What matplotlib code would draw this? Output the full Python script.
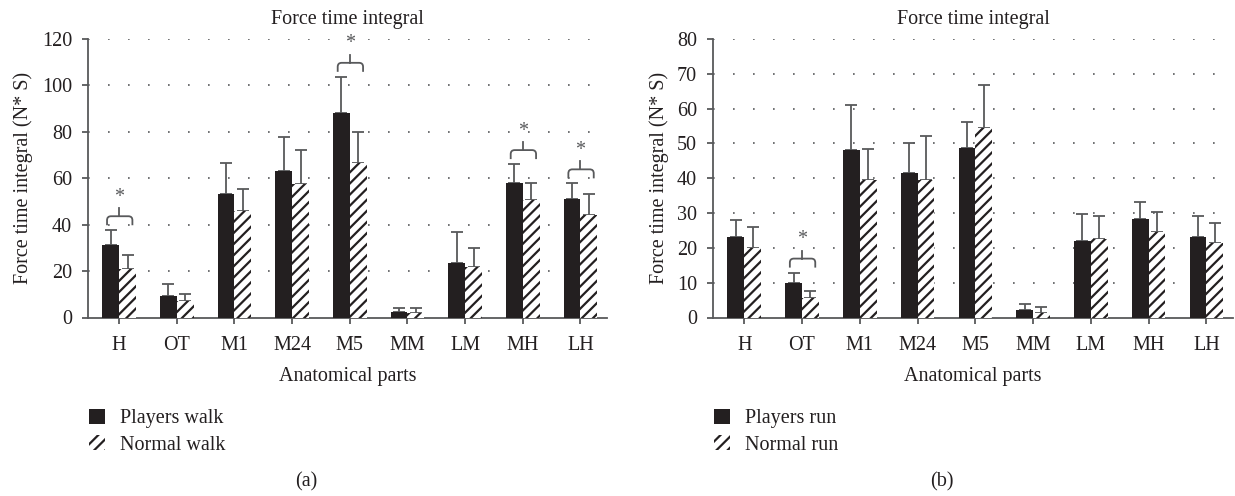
import matplotlib
matplotlib.use('agg')
import matplotlib.pyplot as plt
from matplotlib.patches import Patch, PathPatch
from matplotlib.path import Path
import numpy as np

# categories (anatomical parts)
parts = ['H', 'OT', 'M1', 'M24', 'M5', 'MM', 'LM', 'MH', 'LH']

# (a) walking
players_walk = [31.1, 9.3, 53.4, 63.3, 88.1, 2.4, 23.4, 58.1, 51.1]
players_walk_sd = [6.5, 5.1, 13.3, 14.3, 15.6, 1.5, 13.5, 8.0, 6.7]
normal_walk = [21.1, 6.9, 46.1, 57.6, 66.4, 2.1, 21.6, 50.6, 44.2]
normal_walk_sd = [5.8, 3.1, 9.2, 14.7, 13.5, 1.8, 8.3, 7.2, 9.0]
sig_walk = ['H', 'M5', 'MH', 'LH']

# (b) running
players_run = [23.1, 9.8, 48.2, 41.4, 48.6, 2.1, 22.1, 28.3, 23.1]
players_run_sd = [5.0, 3.1, 12.8, 8.7, 7.7, 1.9, 7.6, 5.0, 6.1]
normal_run = [19.9, 5.5, 39.5, 39.5, 54.4, 1.4, 22.5, 24.5, 21.5]
normal_run_sd = [6.1, 2.2, 9.0, 12.7, 12.3, 1.7, 6.7, 5.7, 5.6]
sig_run = ['OT']

DARK = '#231f20'
GREY = '#58595b'
FS = 14.5

plt.rcParams['font.family'] = ['Liberation Serif', 'DejaVu Serif']
plt.rcParams['hatch.linewidth'] = 1.6
plt.rcParams['hatch.color'] = DARK

W, H = 1235, 496
fig = plt.figure(figsize=(W / 100, H / 100), dpi=100)


def draw_panel(rect, players, players_sd, normal, normal_sd, ymax, ystep, sig, names, tag, tag_x):
    ax = fig.add_axes(rect)
    x = np.arange(len(parts))
    w = 0.29
    ax.bar(x - w / 2, players, w, color=DARK, linewidth=0, zorder=3)
    ax.bar(x + w / 2, normal, w, color='white', edgecolor=DARK, hatch='///', linewidth=0, zorder=3)
    ax.errorbar(x - w / 2, players, yerr=[np.zeros(len(x)), players_sd], fmt='none',
                ecolor=GREY, elinewidth=1.3, capsize=4, capthick=1.3, zorder=2)
    ax.errorbar(x + w / 2, normal, yerr=[np.zeros(len(x)), normal_sd], fmt='none',
                ecolor=GREY, elinewidth=1.3, capsize=4, capthick=1.3, zorder=2)

    ax.set_xlim(-0.54, 8.46)
    ax.set_ylim(0, ymax)
    ax.set_yticks(np.arange(0, ymax + 1, ystep))
    ax.set_xticks(x)
    ax.set_xticklabels(parts)
    for yv in np.arange(ystep, ymax + 1, ystep):
        ax.axhline(yv, color=GREY, linestyle=(0, (1, 11)), linewidth=1.2, zorder=1)

    for s in ['top', 'right']:
        ax.spines[s].set_visible(False)
    for s in ['left', 'bottom']:
        ax.spines[s].set_color(GREY)
        ax.spines[s].set_linewidth(1.3)
    ax.tick_params(axis='both', colors=GREY, labelcolor=DARK, labelsize=FS,
                   length=4.5, width=1.3, direction='out')
    ax.tick_params(axis='y', pad=7)
    ax.tick_params(axis='x', pad=8.5)

    ax.set_title('Force time integral', fontsize=FS, color=DARK, pad=11)
    ax.set_xlabel('Anatomical parts', fontsize=FS, color=DARK, labelpad=9)
    ax.set_ylabel('Force time integral (N* S)', fontsize=FS, color=DARK, labelpad=6)

    # significance brackets, offsets in pixels above the higher error bar
    upp = ymax / (rect[3] * H)
    upx = (8.46 + 0.54) / (rect[2] * W)
    for name in sig:
        i = parts.index(name)
        top = max(players[i] + players_sd[i], normal[i] + normal_sd[i])
        y_leg = top + 5 * upp
        y_line = top + 14 * upp
        y_tick = top + 22 * upp
        xl, xr = i - 0.21, i + 0.23
        rx, ry = 4 * upx, 4 * upp
        verts = [(xl, y_leg), (xl, y_line - ry), (xl, y_line), (xl + rx, y_line),
                 (xr - rx, y_line), (xr, y_line), (xr, y_line - ry), (xr, y_leg)]
        codes = [Path.MOVETO, Path.LINETO, Path.CURVE3, Path.CURVE3,
                 Path.LINETO, Path.CURVE3, Path.CURVE3, Path.LINETO]
        ax.add_patch(PathPatch(Path(verts, codes), facecolor='none', edgecolor=GREY,
                               linewidth=1.3, zorder=4, clip_on=False))
        ax.plot([i, i], [y_line, y_tick], color=GREY, linewidth=1.3, zorder=4, clip_on=False)
        ax.text(i, top + 33 * upp, '*', ha='center', va='center', fontsize=FS,
                color=GREY, zorder=4)

    handles = [Patch(facecolor=DARK, edgecolor='none'),
               Patch(facecolor='white', edgecolor=DARK, hatch='///', linewidth=0)]
    fig.legend(handles, names, loc='upper left',
               bbox_to_anchor=((rect[0] * W + 1) / W, 1 - 409 / H),
               frameon=False, fontsize=FS, handlelength=0.8, handleheight=0.75,
               handletextpad=0.75, labelspacing=0.35, borderpad=0, borderaxespad=0,
               labelcolor=DARK)
    fig.text(tag_x / W, 1 - 482 / H, tag, ha='center', va='center', fontsize=FS, color=DARK)
    return ax


bottom = (H - 317.5) / H
height = 278.5 / H
draw_panel([88 / W, bottom, 519 / W, height], players_walk, players_walk_sd,
           normal_walk, normal_walk_sd, 120, 20, sig_walk,
           ['Players walk', 'Normal walk'], '(a)', 306)
draw_panel([713 / W, bottom, 520 / W, height], players_run, players_run_sd,
           normal_run, normal_run_sd, 80, 10, sig_run,
           ['Players run', 'Normal run'], '(b)', 942)

fig.savefig('out.png', dpi=100)
